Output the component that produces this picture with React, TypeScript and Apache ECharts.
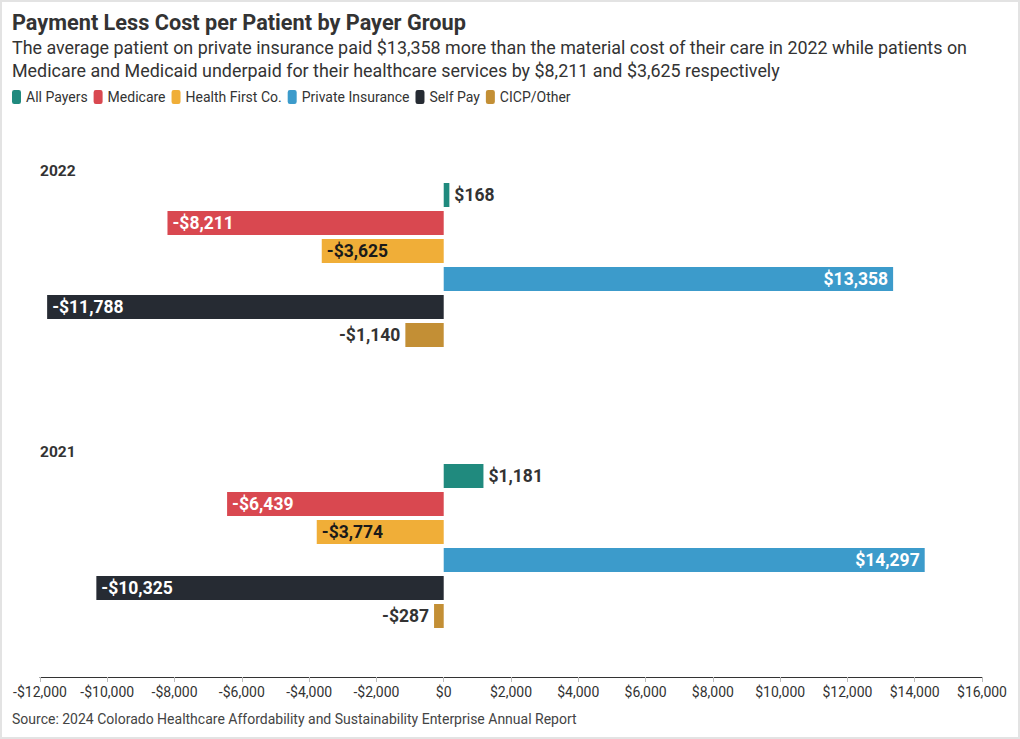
import React, { useEffect, useRef } from "react";
import * as echarts from "echarts";

const years = ["2022", "2021"];
const payers = ["All Payers", "Medicare", "Health First Co.", "Private Insurance", "Self Pay", "CICP/Other"];
const values2022 = [168, -8211, -3625, 13358, -11788, -1140];
const values2021 = [1181, -6439, -3774, 14297, -10325, -287];
const colors = ["#208a7e", "#d94850", "#f0ae38", "#3c9bcb", "#262b33", "#c38f35"];
const xMin = -12000;
const xMax = 16000;
const xInterval = 2000;

const titleText = "Payment Less Cost per Patient by Payer Group";
const subText =
  "The average patient on private insurance paid $13,358 more than the material cost of their care in 2022 while patients on\nMedicare and Medicaid underpaid for their healthcare services by $8,211 and $3,625 respectively";
const sourceText = "Source: 2024 Colorado Healthcare Affordability and Sustainability Enterprise Annual Report";

const FONT = "Roboto, 'Noto Sans', sans-serif";

function fmt(v: number): string {
  return (v < 0 ? "-" : "") + "$" + Math.abs(v).toLocaleString("en-US");
}

export default function App() {
  const ref = useRef<HTMLDivElement>(null);
  useEffect(() => {
    if (!ref.current) return;
    const chart = echarts.init(ref.current, undefined, { renderer: "svg" });
    const series = payers.map((name, i) => ({
      name,
      type: "bar",
      barWidth: 24,
      barGap: "16.67%",
      itemStyle: { color: colors[i] },
      data: [values2022[i], values2021[i]].map((v) => {
        const inside = Math.abs(v) >= 3000;
        const position = v >= 0 ? (inside ? "insideRight" : "right") : inside ? "insideLeft" : "left";
        const color = inside ? (i === 2 ? "#1a1a1a" : "#ffffff") : "#333333";
        return {
          value: v,
          label: {
            show: true,
            position,
            distance: 5,
            color,
            fontFamily: FONT,
            fontSize: 17.5,
            fontWeight: "bold",
            formatter: () => fmt(v),
          },
        };
      }),
    }));
    chart.setOption({
      animation: false,
      textStyle: { fontFamily: FONT },
      title: {
        left: 12,
        top: 11,
        padding: 0,
        text: titleText,
        subtext: subText,
        itemGap: 3,
        textStyle: { fontFamily: FONT, fontSize: 21.7, fontWeight: "bold", color: "#333333", lineHeight: 22 },
        subtextStyle: { fontFamily: FONT, fontSize: 17.9, color: "#333333", lineHeight: 23 },
      },
      legend: {
        left: 12,
        top: 90,
        padding: 0,
        icon: "roundRect",
        itemWidth: 9,
        itemHeight: 14,
        itemGap: 6,
        textStyle: { fontFamily: FONT, fontSize: 14, color: "#333333" },
        data: payers,
      },
      grid: { left: 40, right: 38, top: 124.5, bottom: 52.5, containLabel: false },
      xAxis: {
        type: "value",
        min: xMin,
        max: xMax,
        interval: xInterval,
        offset: -9.5,
        splitLine: { show: false },
        axisLine: { show: true, lineStyle: { color: "#333333", width: 1 } },
        axisTick: { show: true, length: 5, lineStyle: { color: "#bbbbbb" } },
        axisLabel: {
          fontFamily: FONT,
          fontSize: 14,
          color: "#333333",
          margin: 8,
          formatter: (v: number) => fmt(v),
        },
      },
      yAxis: {
        type: "category",
        inverse: true,
        data: years,
        axisLine: { show: false, onZero: false },
        axisTick: { show: false },
        axisLabel: {
          inside: true,
          margin: 0,
          align: "left",
          verticalAlign: "middle",
          lineHeight: 23.5,
          formatter: (v: string) => v + "\n\n\n\n\n\n\n\n",
          fontFamily: FONT,
          fontSize: 15.5,
          fontWeight: "bold",
          color: "#333333",
        },
      },
      graphic: [
        {
          type: "text",
          left: 12,
          top: 712,
          style: { text: sourceText, fontFamily: FONT, fontSize: 14, fill: "#444444" },
        },
      ],
      series,
    });
    return () => chart.dispose();
  }, []);
  return (
    <div style={{ position: "fixed", left: 0, top: 0, width: 1020, height: 739, background: "#fff" }}>
      <div ref={ref} style={{ position: "absolute", left: 0, top: 0, width: 1020, height: 739 }} />
      <div
        style={{
          position: "absolute",
          left: 0,
          top: 0,
          width: 1020,
          height: 739,
          boxSizing: "border-box",
          border: "2px solid #e3e3e3",
          pointerEvents: "none",
        }}
      />
    </div>
  );
}
